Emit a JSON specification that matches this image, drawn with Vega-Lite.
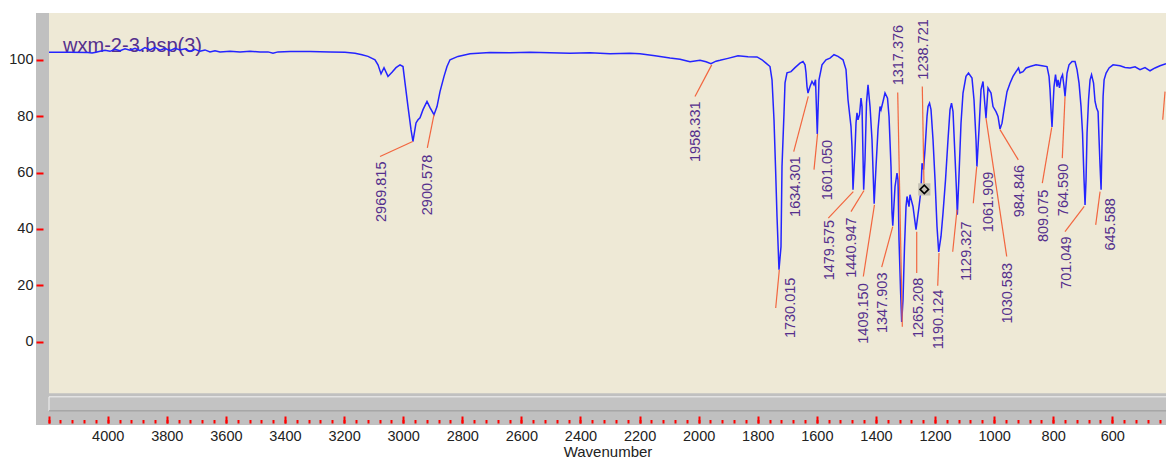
{
  "$schema": "https://vega.github.io/schema/vega-lite/v6.json",
  "width": 1130,
  "height": 412,
  "autosize": {"type": "none"},
  "padding": {"left": 36, "top": 13, "right": 0, "bottom": 37},
  "background": "#ffffff",
  "view": {"fill": "#eee9d6", "stroke": null},
  "config": {"font": "Liberation Sans"},
  "datasets": {
    "frame": [
      {"x": 4250, "x2": 4198.7, "y": -30, "y2": 117},
      {"x": 4250, "x2": 400, "y": -30, "y2": -18.3}
    ],
    "thumb": [
      {"x": 4198.7, "x2": 400, "y": -19.6, "y2": -24.6}
    ],
    "name": [
      {"label": "wxm-2-3.bsp(3)", "w": 4151, "t": 102.8}
    ],
    "spectrum": [
      {"w": 4198.7, "t": 102.7}, {"w": 4127.6, "t": 102.7}, {"w": 4066.7, "t": 102.6}, {"w": 4053.1, "t": 102.4},
      {"w": 4039.6, "t": 102.7}, {"w": 4026.1, "t": 103.0}, {"w": 4009.1, "t": 103.4}, {"w": 3992.2, "t": 103.0},
      {"w": 3975.3, "t": 103.7}, {"w": 3958.4, "t": 103.2}, {"w": 3941.4, "t": 103.9}, {"w": 3924.5, "t": 103.4},
      {"w": 3907.6, "t": 104.1}, {"w": 3890.7, "t": 103.2}, {"w": 3873.8, "t": 104.3}, {"w": 3856.8, "t": 103.5},
      {"w": 3839.9, "t": 104.4}, {"w": 3823.0, "t": 103.4}, {"w": 3806.1, "t": 104.1}, {"w": 3789.2, "t": 103.2},
      {"w": 3772.2, "t": 104.1}, {"w": 3755.3, "t": 103.5}, {"w": 3738.4, "t": 103.9}, {"w": 3721.5, "t": 103.0},
      {"w": 3704.5, "t": 103.7}, {"w": 3687.6, "t": 103.0}, {"w": 3670.7, "t": 103.5}, {"w": 3653.8, "t": 102.8},
      {"w": 3636.9, "t": 103.2}, {"w": 3619.9, "t": 102.8}, {"w": 3586.1, "t": 103.0}, {"w": 3552.2, "t": 102.8},
      {"w": 3518.4, "t": 103.0}, {"w": 3484.6, "t": 102.8}, {"w": 3457.5, "t": 102.8}, {"w": 3440.6, "t": 102.3},
      {"w": 3423.6, "t": 102.8}, {"w": 3383.0, "t": 102.9}, {"w": 3315.3, "t": 102.9}, {"w": 3247.6, "t": 102.8},
      {"w": 3196.9, "t": 102.7}, {"w": 3163.0, "t": 102.3}, {"w": 3139.3, "t": 101.8}, {"w": 3119.0, "t": 101.2},
      {"w": 3095.4, "t": 100.0}, {"w": 3085.2, "t": 98.2}, {"w": 3075.0, "t": 95.0}, {"w": 3064.9, "t": 97.2},
      {"w": 3051.4, "t": 94.1}, {"w": 3037.8, "t": 95.6}, {"w": 3024.3, "t": 97.2}, {"w": 3010.7, "t": 98.2},
      {"w": 3000.6, "t": 97.6}, {"w": 2993.8, "t": 91.8}, {"w": 2983.7, "t": 83.4}, {"w": 2973.5, "t": 75.2},
      {"w": 2967.0, "t": 71.0}, {"w": 2956.6, "t": 77.6}, {"w": 2949.8, "t": 78.7}, {"w": 2943.0, "t": 79.4},
      {"w": 2932.9, "t": 82.3}, {"w": 2919.4, "t": 85.2}, {"w": 2909.2, "t": 83.0}, {"w": 2895.7, "t": 80.5},
      {"w": 2885.5, "t": 83.4}, {"w": 2875.4, "t": 88.7}, {"w": 2861.8, "t": 94.1}, {"w": 2851.7, "t": 97.6},
      {"w": 2841.5, "t": 100.0}, {"w": 2814.5, "t": 101.2}, {"w": 2773.8, "t": 102.1}, {"w": 2706.1, "t": 102.6},
      {"w": 2638.5, "t": 102.5}, {"w": 2570.8, "t": 102.7}, {"w": 2503.1, "t": 102.5}, {"w": 2435.4, "t": 102.3},
      {"w": 2367.7, "t": 102.5}, {"w": 2300.0, "t": 102.1}, {"w": 2232.3, "t": 102.3}, {"w": 2198.5, "t": 102.1},
      {"w": 2147.7, "t": 101.4}, {"w": 2097.0, "t": 100.6}, {"w": 2063.1, "t": 100.2}, {"w": 2029.2, "t": 99.3},
      {"w": 1995.4, "t": 99.8}, {"w": 1975.1, "t": 99.3}, {"w": 1958.3, "t": 98.6}, {"w": 1941.3, "t": 99.5},
      {"w": 1927.7, "t": 99.8}, {"w": 1900.7, "t": 100.5}, {"w": 1866.8, "t": 101.4}, {"w": 1833.0, "t": 101.1},
      {"w": 1802.5, "t": 101.0}, {"w": 1785.6, "t": 100.0}, {"w": 1772.1, "t": 98.8}, {"w": 1758.5, "t": 97.6},
      {"w": 1751.7, "t": 92.9}, {"w": 1745.0, "t": 78.7}, {"w": 1739.9, "t": 62.1}, {"w": 1734.8, "t": 44.4},
      {"w": 1728.1, "t": 25.5}, {"w": 1721.3, "t": 33.7}, {"w": 1717.9, "t": 62.1}, {"w": 1711.1, "t": 81.2},
      {"w": 1707.7, "t": 91.8}, {"w": 1701.0, "t": 95.4}, {"w": 1687.4, "t": 95.8}, {"w": 1673.9, "t": 97.2},
      {"w": 1657.0, "t": 98.8}, {"w": 1646.8, "t": 99.4}, {"w": 1640.0, "t": 98.2}, {"w": 1636.7, "t": 95.4},
      {"w": 1633.3, "t": 90.5}, {"w": 1629.9, "t": 88.2}, {"w": 1623.1, "t": 90.5}, {"w": 1616.4, "t": 92.3},
      {"w": 1609.6, "t": 91.1}, {"w": 1604.5, "t": 92.9}, {"w": 1598.5, "t": 73.7}, {"w": 1592.7, "t": 92.9},
      {"w": 1582.5, "t": 98.2}, {"w": 1569.0, "t": 100.0}, {"w": 1555.4, "t": 100.6}, {"w": 1541.9, "t": 101.8},
      {"w": 1528.4, "t": 101.2}, {"w": 1511.4, "t": 100.0}, {"w": 1501.3, "t": 96.5}, {"w": 1494.5, "t": 85.8},
      {"w": 1484.4, "t": 76.3}, {"w": 1481.0, "t": 69.2}, {"w": 1477.6, "t": 53.9}, {"w": 1470.8, "t": 68.1},
      {"w": 1467.4, "t": 77.6}, {"w": 1464.1, "t": 81.2}, {"w": 1460.7, "t": 78.7}, {"w": 1455.6, "t": 80.5},
      {"w": 1450.5, "t": 86.4}, {"w": 1447.1, "t": 83.4}, {"w": 1441.5, "t": 53.9}, {"w": 1437.0, "t": 64.5},
      {"w": 1431.9, "t": 84.7}, {"w": 1426.8, "t": 91.1}, {"w": 1420.0, "t": 83.4}, {"w": 1413.3, "t": 71.6},
      {"w": 1406.0, "t": 48.9}, {"w": 1399.7, "t": 62.1}, {"w": 1393.0, "t": 75.2}, {"w": 1386.2, "t": 83.4},
      {"w": 1382.8, "t": 82.3}, {"w": 1376.0, "t": 85.2}, {"w": 1369.3, "t": 88.2}, {"w": 1360.8, "t": 86.4},
      {"w": 1355.7, "t": 79.9}, {"w": 1349.0, "t": 62.1}, {"w": 1345.6, "t": 45.7}, {"w": 1343.0, "t": 41.1},
      {"w": 1335.4, "t": 55.0}, {"w": 1328.7, "t": 59.8}, {"w": 1325.3, "t": 57.4}, {"w": 1321.9, "t": 36.1},
      {"w": 1316.8, "t": 18.4}, {"w": 1312.8, "t": 7.0}, {"w": 1308.4, "t": 14.8}, {"w": 1303.3, "t": 33.7},
      {"w": 1298.2, "t": 47.9}, {"w": 1294.8, "t": 51.5}, {"w": 1288.1, "t": 47.9}, {"w": 1284.7, "t": 52.1},
      {"w": 1274.5, "t": 47.9}, {"w": 1264.4, "t": 39.7}, {"w": 1254.2, "t": 47.9}, {"w": 1247.4, "t": 53.9},
      {"w": 1244.0, "t": 63.3}, {"w": 1239.0, "t": 61.0}, {"w": 1233.9, "t": 68.1}, {"w": 1227.1, "t": 79.9},
      {"w": 1223.7, "t": 83.4}, {"w": 1218.6, "t": 84.6}, {"w": 1213.6, "t": 82.3}, {"w": 1206.8, "t": 71.6},
      {"w": 1200.0, "t": 57.4}, {"w": 1193.3, "t": 40.8}, {"w": 1187.6, "t": 31.8}, {"w": 1179.8, "t": 37.3},
      {"w": 1173.0, "t": 45.6}, {"w": 1164.5, "t": 57.4}, {"w": 1156.1, "t": 71.6}, {"w": 1149.3, "t": 82.3},
      {"w": 1144.2, "t": 84.6}, {"w": 1139.1, "t": 81.6}, {"w": 1132.4, "t": 65.7}, {"w": 1127.5, "t": 53.9},
      {"w": 1124.5, "t": 45.0}, {"w": 1119.5, "t": 57.4}, {"w": 1112.1, "t": 77.5}, {"w": 1105.3, "t": 88.2},
      {"w": 1095.2, "t": 94.1}, {"w": 1086.7, "t": 95.3}, {"w": 1074.9, "t": 93.5}, {"w": 1068.1, "t": 85.8},
      {"w": 1061.3, "t": 71.6}, {"w": 1058.2, "t": 62.1}, {"w": 1051.2, "t": 75.2}, {"w": 1044.4, "t": 89.4},
      {"w": 1037.6, "t": 92.3}, {"w": 1030.8, "t": 83.4}, {"w": 1027.5, "t": 79.3}, {"w": 1020.7, "t": 90.0},
      {"w": 1010.5, "t": 88.2}, {"w": 1003.8, "t": 83.4}, {"w": 993.6, "t": 81.6}, {"w": 986.8, "t": 79.9},
      {"w": 980.1, "t": 75.4}, {"w": 973.3, "t": 77.5}, {"w": 966.5, "t": 82.3}, {"w": 956.4, "t": 88.7},
      {"w": 946.2, "t": 91.7}, {"w": 936.1, "t": 94.1}, {"w": 925.9, "t": 95.8}, {"w": 917.4, "t": 97.1},
      {"w": 912.4, "t": 95.3}, {"w": 902.2, "t": 95.8}, {"w": 892.1, "t": 97.1}, {"w": 878.5, "t": 97.6},
      {"w": 858.2, "t": 98.2}, {"w": 837.9, "t": 97.9}, {"w": 821.0, "t": 97.6}, {"w": 814.2, "t": 94.1},
      {"w": 810.8, "t": 89.4}, {"w": 807.4, "t": 82.3}, {"w": 804.1, "t": 76.2}, {"w": 800.7, "t": 83.4},
      {"w": 797.3, "t": 90.5}, {"w": 792.2, "t": 94.7}, {"w": 787.1, "t": 90.5}, {"w": 783.7, "t": 92.9},
      {"w": 778.7, "t": 90.0}, {"w": 773.6, "t": 93.5}, {"w": 768.5, "t": 94.7}, {"w": 763.4, "t": 90.5},
      {"w": 760.0, "t": 87.0}, {"w": 753.2, "t": 95.3}, {"w": 746.5, "t": 98.2}, {"w": 736.3, "t": 99.4},
      {"w": 726.2, "t": 99.4}, {"w": 719.4, "t": 96.5}, {"w": 712.6, "t": 91.7}, {"w": 705.9, "t": 83.4},
      {"w": 700.8, "t": 74.0}, {"w": 695.7, "t": 57.4}, {"w": 692.3, "t": 48.5}, {"w": 688.9, "t": 57.4},
      {"w": 685.5, "t": 74.0}, {"w": 680.4, "t": 85.8}, {"w": 675.3, "t": 92.9}, {"w": 670.3, "t": 94.7},
      {"w": 663.5, "t": 91.7}, {"w": 658.4, "t": 85.2}, {"w": 653.3, "t": 82.9}, {"w": 648.2, "t": 81.6},
      {"w": 644.8, "t": 71.6}, {"w": 641.4, "t": 62.1}, {"w": 638.0, "t": 53.9}, {"w": 634.6, "t": 71.6},
      {"w": 631.2, "t": 87.0}, {"w": 627.8, "t": 92.9}, {"w": 621.0, "t": 95.3}, {"w": 610.9, "t": 97.1},
      {"w": 597.4, "t": 98.2}, {"w": 573.9, "t": 97.9}, {"w": 557.0, "t": 97.3}, {"w": 540.1, "t": 97.1},
      {"w": 523.1, "t": 97.5}, {"w": 506.2, "t": 96.5}, {"w": 489.3, "t": 97.2}, {"w": 472.3, "t": 96.1},
      {"w": 455.4, "t": 97.1}, {"w": 438.5, "t": 97.9}, {"w": 418.2, "t": 98.6}
    ],
    "peaks": [
      {"peak": "2969.815", "tx": 3072.7, "ty": 63.9, "lx1": 3078.4, "ly1": 65.7, "lx2": 2967.8, "ly2": 71.0},
      {"peak": "2900.578", "tx": 2915.0, "ty": 66.3, "lx1": 2918.3, "ly1": 68.7, "lx2": 2895.7, "ly2": 80.5},
      {"peak": "1958.331", "tx": 2009.0, "ty": 85.2, "lx1": 2012.4, "ly1": 87.0, "lx2": 1955.8, "ly2": 98.2},
      {"peak": "1730.015", "tx": 1688.5, "ty": 22.7, "lx1": 1739.2, "ly1": 11.9, "lx2": 1727.0, "ly2": 25.5},
      {"peak": "1634.301", "tx": 1672.2, "ty": 65.7, "lx1": 1678.3, "ly1": 67.4, "lx2": 1628.9, "ly2": 87.0},
      {"peak": "1601.050", "tx": 1561.2, "ty": 71.6, "lx1": 1609.6, "ly1": 61.0, "lx2": 1597.5, "ly2": 73.7},
      {"peak": "1479.575", "tx": 1557.1, "ty": 43.2, "lx1": 1561.2, "ly1": 43.8, "lx2": 1476.6, "ly2": 53.2},
      {"peak": "1440.947", "tx": 1482.0, "ty": 44.1, "lx1": 1484.4, "ly1": 46.1, "lx2": 1440.4, "ly2": 53.6},
      {"peak": "1409.150", "tx": 1439.4, "ty": 20.7, "lx1": 1442.7, "ly1": 23.1, "lx2": 1405.0, "ly2": 48.5},
      {"peak": "1347.903", "tx": 1377.1, "ty": 24.5, "lx1": 1380.5, "ly1": 26.4, "lx2": 1343.2, "ly2": 40.8},
      {"peak": "1317.376", "tx": 1320.9, "ty": 112.4, "lx1": 1326.3, "ly1": 88.4, "lx2": 1310.7, "ly2": 5.3},
      {"peak": "1238.721", "tx": 1236.3, "ty": 114.4, "lx1": 1243.1, "ly1": 90.5, "lx2": 1237.3, "ly2": 55.0},
      {"peak": "1265.208", "tx": 1253.2, "ty": 22.7, "lx1": 1262.0, "ly1": 24.3, "lx2": 1262.0, "ly2": 39.0},
      {"peak": "1190.124", "tx": 1185.5, "ty": 18.4, "lx1": 1190.9, "ly1": 19.8, "lx2": 1186.5, "ly2": 31.4},
      {"peak": "1129.327", "tx": 1090.8, "ty": 42.6, "lx1": 1140.2, "ly1": 31.9, "lx2": 1125.6, "ly2": 46.8},
      {"peak": "1061.909", "tx": 1019.0, "ty": 60.3, "lx1": 1070.5, "ly1": 49.1, "lx2": 1058.9, "ly2": 62.1},
      {"peak": "1030.583", "tx": 953.0, "ty": 27.9, "lx1": 957.4, "ly1": 30.2, "lx2": 1027.5, "ly2": 79.3},
      {"peak": "984.846", "tx": 912.4, "ty": 62.7, "lx1": 918.1, "ly1": 64.5, "lx2": 980.1, "ly2": 75.2},
      {"peak": "809.075", "tx": 831.1, "ty": 53.9, "lx1": 836.9, "ly1": 56.2, "lx2": 805.0, "ly2": 76.0},
      {"peak": "764.590", "tx": 762.5, "ty": 63.1, "lx1": 769.3, "ly1": 65.1, "lx2": 760.0, "ly2": 87.0},
      {"peak": "701.049", "tx": 755.0, "ty": 37.3, "lx1": 760.1, "ly1": 39.0, "lx2": 695.0, "ly2": 48.0},
      {"peak": "645.588", "tx": 604.4, "ty": 50.9, "lx1": 656.2, "ly1": 41.4, "lx2": 641.4, "ly2": 53.2}
    ],
    "edgeLeader": [
      {"lx1": 421.6, "ly1": 88.7, "lx2": 429.4, "ly2": 78.7}
    ],
    "cursor": [
      {"w": 1236.3, "t": 54.0}
    ]
  },
  "resolve": {"axis": {"x": "independent", "y": "independent"}},
  "layer": [
    {
      "data": {"name": "frame"},
      "mark": {"type": "rect", "color": "#c0c0c0", "clip": true},
      "encoding": {
        "x": {"field": "x", "type": "quantitative", "scale": {"domain": [418.3, 4242.7], "reverse": true, "nice": false, "zero": false},
          "axis": {"orient": "bottom", "values": [4200,4160,4120,4080,4040,4000,3960,3920,3880,3840,3800,3760,3720,3680,3640,3600,3560,3520,3480,3440,3400,3360,3320,3280,3240,3200,3160,3120,3080,3040,3000,2960,2920,2880,2840,2800,2760,2720,2680,2640,2600,2560,2520,2480,2440,2400,2360,2320,2280,2240,2200,2160,2120,2080,2040,2000,1960,1920,1880,1840,1800,1760,1720,1680,1640,1600,1560,1520,1480,1440,1400,1360,1320,1280,1240,1200,1160,1120,1080,1040,1000,960,920,880,840,800,760,720,680,640,600,560,520,480,440],
            "labels": false, "domain": false, "grid": false, "ticks": true, "tickColor": "#ff0000", "tickSize": -3.5, "tickWidth": 2, "offset": -2, "title": null, "zindex": 1}},
        "x2": {"field": "x2"},
        "y": {"field": "y", "type": "quantitative", "scale": {"domain": [-29.6, 116.6], "nice": false, "zero": false},
          "axis": {"orient": "left", "values": [0, 20, 40, 60, 80, 100], "format": "d", "domain": false, "grid": false,
            "tickColor": "#ff0000", "tickSize": -7, "tickWidth": 2,
            "labelFont": "Liberation Sans", "labelFontSize": 14.5, "labelColor": "#222222", "labelPadding": 10,
            "title": null, "zindex": 1}},
        "y2": {"field": "y2"}
      }
    },
    {
      "data": {"name": "thumb"},
      "mark": {"type": "rect", "fill": "#c3c3c3", "stroke": "#f2f2f2", "strokeWidth": 1, "clip": true},
      "encoding": {
        "x": {"field": "x", "type": "quantitative", "scale": {"domain": [418.3, 4242.7], "reverse": true, "nice": false, "zero": false}, "axis": null},
        "x2": {"field": "x2"},
        "y": {"field": "y", "type": "quantitative", "scale": {"domain": [-29.6, 116.6], "nice": false, "zero": false}, "axis": null},
        "y2": {"field": "y2"}
      }
    },
    {
      "data": {"name": "thumb"},
      "mark": {"type": "rule", "color": "#808080", "strokeWidth": 1, "clip": true},
      "encoding": {
        "x": {"field": "x", "type": "quantitative", "scale": {"domain": [418.3, 4242.7], "reverse": true, "nice": false, "zero": false}, "axis": null},
        "x2": {"field": "x2"},
        "y": {"field": "y2", "type": "quantitative", "scale": {"domain": [-29.6, 116.6], "nice": false, "zero": false}, "axis": null}
      }
    },
    {
      "data": {"name": "name"},
      "mark": {"type": "text", "align": "left", "baseline": "alphabetic", "fontSize": 20, "font": "Liberation Sans", "color": "#55308d"},
      "encoding": {
        "x": {"field": "w", "type": "quantitative", "scale": {"domain": [418.3, 4242.7], "reverse": true, "nice": false, "zero": false}, "axis": null},
        "y": {"field": "t", "type": "quantitative", "scale": {"domain": [-29.6, 116.6], "nice": false, "zero": false}, "axis": null},
        "text": {"field": "label"}
      }
    },
    {
      "data": {"name": "spectrum"},
      "mark": {"type": "line", "color": "#2424ff", "strokeWidth": 1.5, "clip": true},
      "encoding": {
        "x": {"field": "w", "type": "quantitative", "scale": {"domain": [418.3, 4242.7], "reverse": true, "nice": false, "zero": false},
          "axis": {"orient": "bottom", "values": [4200,4000,3800,3600,3400,3200,3000,2800,2600,2400,2200,2000,1800,1600,1400,1200,1000,800,600,400],
            "format": "d", "labelExpr": "datum.value == 4200 ? '' : datum.label",
            "domain": false, "grid": false, "tickColor": "#ff0000", "tickSize": -7, "tickWidth": 2, "offset": -2,
            "labelFont": "Liberation Sans", "labelFontSize": 14.5, "labelColor": "#222222", "labelPadding": 13,
            "labelFlush": false, "labelOverlap": false,
            "title": "Wavenumber", "titleFont": "Liberation Sans", "titleFontSize": 15, "titleFontWeight": "normal",
            "titleColor": "#222222", "titlePadding": 2, "titleX": 571.5, "zindex": 1}},
        "y": {"field": "t", "type": "quantitative", "scale": {"domain": [-29.6, 116.6], "nice": false, "zero": false}, "axis": null}
      }
    },
    {
      "data": {"name": "peaks"},
      "mark": {"type": "rule", "color": "#f2663f", "strokeWidth": 1.2, "clip": true},
      "encoding": {
        "x": {"field": "lx1", "type": "quantitative", "scale": {"domain": [418.3, 4242.7], "reverse": true, "nice": false, "zero": false}, "axis": null},
        "x2": {"field": "lx2"},
        "y": {"field": "ly1", "type": "quantitative", "scale": {"domain": [-29.6, 116.6], "nice": false, "zero": false}, "axis": null},
        "y2": {"field": "ly2"}
      }
    },
    {
      "data": {"name": "edgeLeader"},
      "mark": {"type": "rule", "color": "#f2663f", "strokeWidth": 1.2, "clip": true},
      "encoding": {
        "x": {"field": "lx1", "type": "quantitative", "scale": {"domain": [418.3, 4242.7], "reverse": true, "nice": false, "zero": false}, "axis": null},
        "x2": {"field": "lx2"},
        "y": {"field": "ly1", "type": "quantitative", "scale": {"domain": [-29.6, 116.6], "nice": false, "zero": false}, "axis": null},
        "y2": {"field": "ly2"}
      }
    },
    {
      "data": {"name": "peaks"},
      "mark": {"type": "text", "angle": 270, "align": "right", "baseline": "middle", "fontSize": 14.5, "font": "Liberation Sans", "color": "#55308d"},
      "encoding": {
        "x": {"field": "tx", "type": "quantitative", "scale": {"domain": [418.3, 4242.7], "reverse": true, "nice": false, "zero": false}, "axis": null},
        "y": {"field": "ty", "type": "quantitative", "scale": {"domain": [-29.6, 116.6], "nice": false, "zero": false}, "axis": null},
        "text": {"field": "peak"}
      }
    },
    {
      "data": {"name": "cursor"},
      "mark": {"type": "point", "shape": "square", "size": 150, "filled": true, "color": "#c4c0b4", "opacity": 1},
      "encoding": {
        "x": {"field": "w", "type": "quantitative", "scale": {"domain": [418.3, 4242.7], "reverse": true, "nice": false, "zero": false}, "axis": null},
        "y": {"field": "t", "type": "quantitative", "scale": {"domain": [-29.6, 116.6], "nice": false, "zero": false}, "axis": null}
      }
    },
    {
      "data": {"name": "cursor"},
      "mark": {"type": "point", "shape": "diamond", "size": 70, "filled": false, "stroke": "#000000", "strokeWidth": 1.6, "opacity": 1},
      "encoding": {
        "x": {"field": "w", "type": "quantitative", "scale": {"domain": [418.3, 4242.7], "reverse": true, "nice": false, "zero": false}, "axis": null},
        "y": {"field": "t", "type": "quantitative", "scale": {"domain": [-29.6, 116.6], "nice": false, "zero": false}, "axis": null}
      }
    }
  ]
}
